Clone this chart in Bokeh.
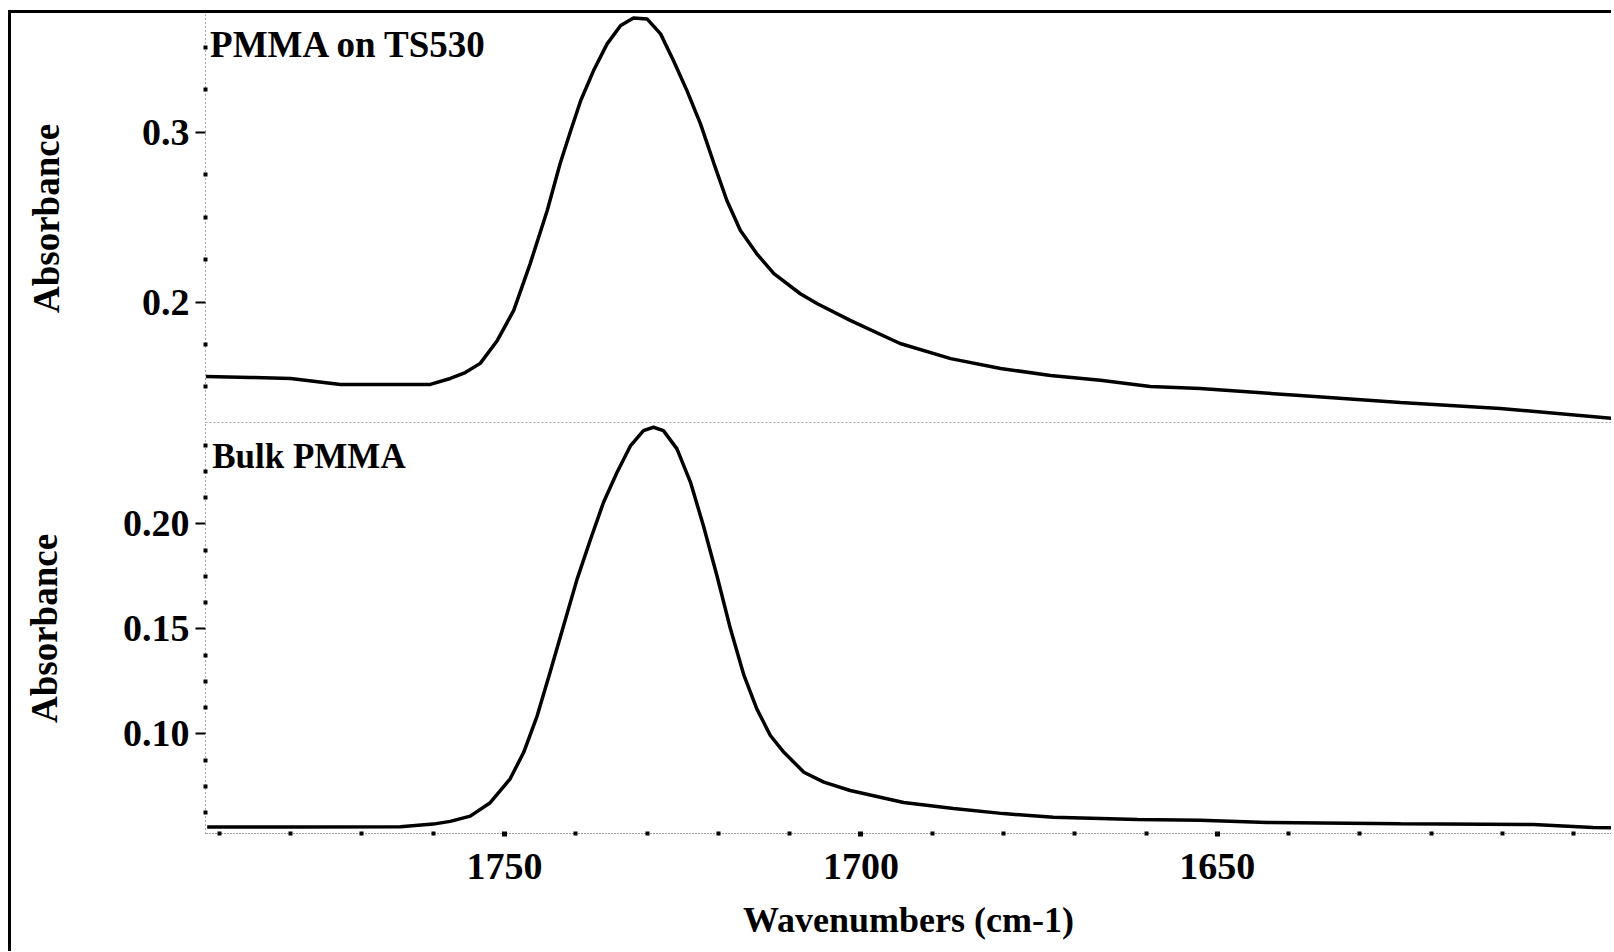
from bokeh.plotting import figure
from bokeh.layouts import column
from bokeh.models import Range1d, FixedTicker, Label, Span, NumeralTickFormatter
from bokeh.embed import file_html
from bokeh.resources import INLINE

# ---------------- data ----------------
top_title = "PMMA on TS530"
bottom_title = "Bulk PMMA"
x_ticks = [1750, 1700, 1650]
x_minor = [1790, 1780, 1770, 1760, 1740, 1730, 1720, 1710, 1690, 1680, 1670,
           1660, 1640, 1630, 1620, 1610, 1600]
top_y_ticks = [0.2, 0.3]
top_y_minor = [0.15, 0.175, 0.225, 0.25, 0.275, 0.325, 0.35]
bot_y_ticks = [0.10, 0.15, 0.20]
bot_y_minor = [0.0625, 0.075, 0.0875, 0.1125, 0.125, 0.1375, 0.1625, 0.175,
               0.1875, 0.2125, 0.225, 0.2375]

top_wn = [1791.9, 1785.6, 1780.0, 1773.0, 1760.4, 1757.6, 1755.5, 1753.4, 1751.0,
          1748.7, 1746.4, 1744.0, 1742.2, 1740.7, 1739.3, 1737.5, 1735.6, 1733.7,
          1731.9, 1730.0, 1728.1, 1726.3, 1724.4, 1722.5, 1720.6, 1718.8, 1716.9,
          1714.6, 1712.2, 1708.5, 1706.1, 1701.5, 1694.5, 1687.4, 1680.4, 1673.4,
          1666.4, 1659.4, 1652.4, 1638.4, 1624.3, 1610.3, 1594.5]
top_abs = [0.1562, 0.1556, 0.1550, 0.1515, 0.1515, 0.1550, 0.1585, 0.1639, 0.1774,
           0.1951, 0.2225, 0.2539, 0.2814, 0.3010, 0.3187, 0.3363, 0.3520, 0.3628,
           0.3673, 0.3667, 0.3579, 0.3422, 0.3245, 0.3049, 0.2814, 0.2598, 0.2421,
           0.2284, 0.2167, 0.2049, 0.1990, 0.1892, 0.1756, 0.1667, 0.1609, 0.1568,
           0.1539, 0.1503, 0.1491, 0.1450, 0.1409, 0.1374, 0.1315]

bot_wn = [1791.7, 1778.6, 1764.6, 1760.0, 1757.6, 1754.8, 1752.0, 1749.2, 1747.3,
          1745.4, 1743.6, 1741.7, 1739.8, 1737.9, 1736.1, 1734.2, 1732.3, 1730.5,
          1729.1, 1727.7, 1725.8, 1723.9, 1722.1, 1720.2, 1718.3, 1716.4, 1714.6,
          1712.7, 1710.8, 1708.0, 1705.2, 1701.5, 1694.0, 1687.0, 1680.0, 1673.0,
          1666.4, 1661.2, 1652.4, 1643.0, 1624.3, 1605.7, 1597.3, 1594.5]
bot_abs = [0.0556, 0.0556, 0.0557, 0.0570, 0.0583, 0.0608, 0.0672, 0.0786, 0.0912,
           0.1087, 0.1293, 0.1516, 0.1738, 0.1929, 0.2103, 0.2246, 0.2373, 0.2444,
           0.2460, 0.2444, 0.2357, 0.2198, 0.1992, 0.1754, 0.1500, 0.1278, 0.1119,
           0.0992, 0.0912, 0.0817, 0.0770, 0.0730, 0.0673, 0.0644, 0.0620, 0.0603,
           0.0597, 0.0592, 0.0588, 0.0578, 0.0572, 0.0568, 0.0554, 0.0552]

# ---------------- styling ----------------
FONT = "Liberation Serif"
W = 1600
LEFT = 194

x_range = Range1d(start=1791.94, end=1594.7)


def style_yaxis(p, ticks, minor, fmt, standoff):
    ax = p.yaxis[0]
    ax.ticker = FixedTicker(ticks=ticks, minor_ticks=minor)
    ax.formatter = NumeralTickFormatter(format=fmt)
    ax.axis_line_color = "#555555"
    ax.axis_line_dash = "1 3"
    ax.axis_line_width = 1
    ax.major_tick_in = 0
    ax.major_tick_out = 10
    ax.major_tick_line_width = 2
    ax.major_tick_line_color = "black"
    ax.minor_tick_in = 2
    ax.minor_tick_out = 2
    ax.minor_tick_line_width = 4
    ax.minor_tick_line_color = "black"
    ax.major_label_standoff = 6
    ax.major_label_text_font = FONT
    ax.major_label_text_font_style = "bold"
    ax.major_label_text_font_size = "38px"
    ax.major_label_text_color = "black"
    ax.axis_label = "Absorbance"
    ax.axis_label_text_font = FONT
    ax.axis_label_text_font_style = "bold"
    ax.axis_label_text_font_size = "37px"
    ax.axis_label_text_color = "black"
    ax.axis_label_standoff = standoff


# top panel
p1 = figure(width=W, height=410, x_range=x_range,
            y_range=Range1d(start=0.1285, end=0.3699),
            output_backend="svg", toolbar_location=None,
            min_border_left=LEFT, min_border_right=0, min_border_top=0,
            min_border_bottom=0, x_axis_location=None)
p1.grid.visible = False
p1.outline_line_color = None
p1.background_fill_color = "white"
p1.border_fill_color = "white"
style_yaxis(p1, top_y_ticks, top_y_minor, "0.0", 72)
p1.line(top_wn, top_abs, line_color="black", line_width=3.5)
p1.add_layout(Span(location=0.1287, dimension="width", line_color="#555555",
                   line_dash="2 2", line_width=1.5))
p1.add_layout(Label(x=1791.3, y=0.3635, text=top_title, text_font=FONT,
                    text_font_style="bold", text_font_size="37px",
                    text_baseline="top", text_align="left", text_color="black"))

# bottom panel
p2 = figure(width=W, height=528, x_range=x_range,
            y_range=Range1d(start=0.05253, end=0.2478),
            output_backend="svg", toolbar_location=None,
            min_border_left=LEFT, min_border_right=0, min_border_top=0,
            min_border_bottom=118)
p2.grid.visible = False
p2.outline_line_color = None
p2.background_fill_color = "white"
p2.border_fill_color = "white"
style_yaxis(p2, bot_y_ticks, bot_y_minor, "0.00", 55)
xa = p2.xaxis[0]
xa.ticker = FixedTicker(ticks=x_ticks, minor_ticks=x_minor)
xa.axis_line_color = "#444444"
xa.axis_line_dash = "1 2"
xa.major_tick_in = 2
xa.major_tick_out = 3
xa.major_tick_line_width = 5
xa.minor_tick_in = 2
xa.minor_tick_out = 2
xa.minor_tick_line_width = 4
xa.major_label_standoff = 17
xa.major_label_text_font = FONT
xa.major_label_text_font_style = "bold"
xa.major_label_text_font_size = "38px"
xa.major_label_text_color = "black"
xa.axis_label = "Wavenumbers (cm-1)"
xa.axis_label_text_font = FONT
xa.axis_label_text_font_style = "bold"
xa.axis_label_text_font_size = "36px"
xa.axis_label_text_color = "black"
xa.axis_label_standoff = 18
p2.line(bot_wn, bot_abs, line_color="black", line_width=3.5)
p2.add_layout(Label(x=1791.0, y=0.2412, text=bottom_title, text_font=FONT,
                    text_font_style="bold", text_font_size="35px",
                    text_baseline="top", text_align="left", text_color="black"))

layout = column(p1, p2, spacing=0,
                styles={"border-left": "3px solid black",
                        "border-top": "3px solid black",
                        "margin-left": "8px", "margin-top": "10px"})

open("out.html", "w").write(file_html(layout, INLINE))
